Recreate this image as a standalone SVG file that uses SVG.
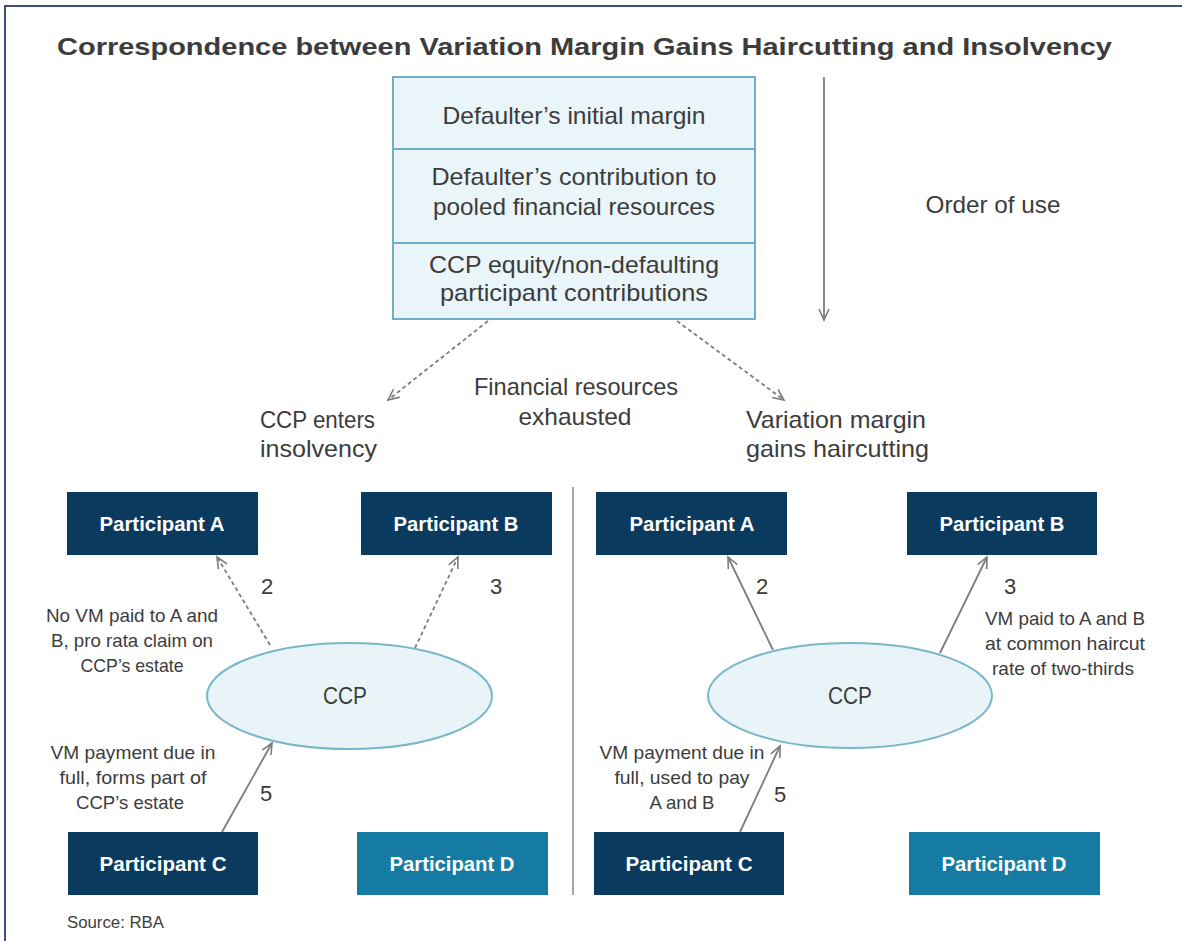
<svg xmlns="http://www.w3.org/2000/svg" width="1182" height="941" viewBox="0 0 1182 941">
<style>
.t{font-family:"Liberation Sans",Arial,sans-serif;fill:#3c3c3c}
.c{text-anchor:middle}
.big{font-size:24px}
.note{font-size:19px}
.num{font-size:22px;fill:#3a3a3a}
.pbox{fill:#0b3a5f}
.pboxD{fill:#167ba2}
.pt{font-family:"Liberation Sans",Arial,sans-serif;fill:#fff;font-weight:bold;font-size:21px;text-anchor:middle}
.ell{fill:#e9f4f9;stroke:#7ab6ca;stroke-width:2}
.stack{fill:#eaf5f9;stroke:#6fb0c6;stroke-width:2}
.conn{stroke:#7c7c7c;stroke-width:1.8;fill:none}
.dash{stroke-dasharray:4 3}
</style>
<defs>
<marker id="arr" markerUnits="userSpaceOnUse" markerWidth="16" markerHeight="16" refX="12" refY="6" orient="auto">
<path d="M1,1 L12,6 L1,11" fill="none" stroke="#7c7c7c" stroke-width="1.6"/>
</marker>
</defs>
<rect width="1182" height="941" fill="#ffffff"/>
<path d="M5,941 V6 H1182" fill="none" stroke="#3b4f7c" stroke-width="2"/>
<text class="t" x="57" y="55" font-size="24" font-weight="bold" textLength="1055" lengthAdjust="spacingAndGlyphs" fill="#333">Correspondence between Variation Margin Gains Haircutting and Insolvency</text>

<g id="resources">
<rect class="stack" x="393" y="77" width="362" height="242"/>
<line x1="393" y1="149" x2="755" y2="149" stroke="#6fb0c6" stroke-width="2"/>
<line x1="393" y1="243" x2="755" y2="243" stroke="#6fb0c6" stroke-width="2"/>
<text class="t c big" x="574" y="124" textLength="263" lengthAdjust="spacingAndGlyphs">Defaulter’s initial margin</text>
<text class="t c big" x="574" y="185" textLength="285" lengthAdjust="spacingAndGlyphs">Defaulter’s contribution to</text>
<text class="t c big" x="574" y="215" textLength="282" lengthAdjust="spacingAndGlyphs">pooled financial resources</text>
<text class="t c big" x="574" y="273" textLength="290" lengthAdjust="spacingAndGlyphs">CCP equity/non-defaulting</text>
<text class="t c big" x="574" y="301" textLength="268" lengthAdjust="spacingAndGlyphs">participant contributions</text>
</g>

<g id="order">
<text class="t c big" x="993" y="213" textLength="135" lengthAdjust="spacingAndGlyphs">Order of use</text>
</g>

<g id="labels-mid">
<text class="t c big" x="576" y="395" textLength="204" lengthAdjust="spacingAndGlyphs">Financial resources</text>
<text class="t c big" x="575" y="425" textLength="113" lengthAdjust="spacingAndGlyphs">exhausted</text>
<text class="t big" x="260" y="428" textLength="115" lengthAdjust="spacingAndGlyphs">CCP enters</text>
<text class="t big" x="260" y="457" textLength="117" lengthAdjust="spacingAndGlyphs">insolvency</text>
<text class="t big" x="746" y="428" textLength="180" lengthAdjust="spacingAndGlyphs">Variation margin</text>
<text class="t big" x="746" y="457" textLength="183" lengthAdjust="spacingAndGlyphs">gains haircutting</text>
</g>

<line x1="573" y1="487" x2="573" y2="895" stroke="#8a8a8a" stroke-width="1.5"/>

<g id="connectors">
<line class="conn" x1="824" y1="77" x2="824" y2="320" marker-end="url(#arr)"/>
<line class="conn dash" x1="488" y1="321" x2="388" y2="400" marker-end="url(#arr)"/>
<line class="conn dash" x1="677" y1="321" x2="784" y2="400" marker-end="url(#arr)"/>
<line class="conn dash" x1="270" y1="645" x2="217" y2="557" marker-end="url(#arr)"/>
<line class="conn dash" x1="415" y1="648" x2="458" y2="557" marker-end="url(#arr)"/>
<line class="conn" x1="222" y1="832" x2="272" y2="743" marker-end="url(#arr)"/>
<line class="conn" x1="773" y1="650" x2="728" y2="557" marker-end="url(#arr)"/>
<line class="conn" x1="940" y1="653" x2="987" y2="557" marker-end="url(#arr)"/>
<line class="conn" x1="740" y1="832" x2="780" y2="746" marker-end="url(#arr)"/>
</g>

<g id="left-ccp">
<ellipse class="ell" cx="349.5" cy="696" rx="142.5" ry="53"/>
<text class="t c big" x="345" y="704" textLength="44" lengthAdjust="spacingAndGlyphs">CCP</text>
</g>
<g id="left-A"><rect class="pbox" x="67" y="492" width="191" height="63"/><text class="pt" x="162" y="531" textLength="125" lengthAdjust="spacingAndGlyphs">Participant A</text></g>
<g id="left-B"><rect class="pbox" x="361" y="492" width="191" height="63"/><text class="pt" x="456" y="531" textLength="125" lengthAdjust="spacingAndGlyphs">Participant B</text></g>
<g id="left-C"><rect class="pbox" x="68" y="832" width="190" height="63"/><text class="pt" x="163" y="871" textLength="127" lengthAdjust="spacingAndGlyphs">Participant C</text></g>
<g id="left-D"><rect class="pboxD" x="357" y="832" width="191" height="63"/><text class="pt" x="452" y="871" textLength="125" lengthAdjust="spacingAndGlyphs">Participant D</text></g>

<g id="left-notes">
<text class="t num" x="267" y="594" text-anchor="middle">2</text>
<text class="t num" x="496" y="594" text-anchor="middle">3</text>
<text class="t num" x="266" y="801" text-anchor="middle">5</text>
<text class="t c note" x="132" y="622" textLength="172" lengthAdjust="spacingAndGlyphs">No VM paid to A and</text>
<text class="t c note" x="132" y="647" textLength="162" lengthAdjust="spacingAndGlyphs">B, pro rata claim on</text>
<text class="t c note" x="132" y="672" textLength="103" lengthAdjust="spacingAndGlyphs">CCP’s estate</text>
<text class="t c note" x="133" y="759" textLength="165" lengthAdjust="spacingAndGlyphs">VM payment due in</text>
<text class="t c note" x="133" y="784" textLength="147" lengthAdjust="spacingAndGlyphs">full, forms part of</text>
<text class="t c note" x="130" y="809" textLength="108" lengthAdjust="spacingAndGlyphs">CCP’s estate</text>
</g>

<g id="right-ccp">
<ellipse class="ell" cx="850" cy="695.5" rx="142" ry="52.5"/>
<text class="t c big" x="850" y="704" textLength="44" lengthAdjust="spacingAndGlyphs">CCP</text>
</g>
<g id="right-A"><rect class="pbox" x="596" y="492" width="191" height="63"/><text class="pt" x="692" y="531" textLength="125" lengthAdjust="spacingAndGlyphs">Participant A</text></g>
<g id="right-B"><rect class="pbox" x="907" y="492" width="190" height="63"/><text class="pt" x="1002" y="531" textLength="125" lengthAdjust="spacingAndGlyphs">Participant B</text></g>
<g id="right-C"><rect class="pbox" x="594" y="832" width="190" height="63"/><text class="pt" x="689" y="871" textLength="127" lengthAdjust="spacingAndGlyphs">Participant C</text></g>
<g id="right-D"><rect class="pboxD" x="909" y="832" width="191" height="63"/><text class="pt" x="1004" y="871" textLength="125" lengthAdjust="spacingAndGlyphs">Participant D</text></g>

<g id="right-notes">
<text class="t num" x="762" y="594" text-anchor="middle">2</text>
<text class="t num" x="1010" y="594" text-anchor="middle">3</text>
<text class="t num" x="780" y="802" text-anchor="middle">5</text>
<text class="t c note" x="1065" y="625" textLength="160" lengthAdjust="spacingAndGlyphs">VM paid to A and B</text>
<text class="t c note" x="1065" y="650" textLength="160" lengthAdjust="spacingAndGlyphs">at common haircut</text>
<text class="t c note" x="1063" y="675" textLength="142" lengthAdjust="spacingAndGlyphs">rate of two-thirds</text>
<text class="t c note" x="682" y="759" textLength="165" lengthAdjust="spacingAndGlyphs">VM payment due in</text>
<text class="t c note" x="682" y="784" textLength="135" lengthAdjust="spacingAndGlyphs">full, used to pay</text>
<text class="t c note" x="682" y="809" textLength="65" lengthAdjust="spacingAndGlyphs">A and B</text>
</g>

<text class="t" x="67" y="928" font-size="16" fill="#777" textLength="97" lengthAdjust="spacingAndGlyphs">Source: RBA</text>
</svg>
